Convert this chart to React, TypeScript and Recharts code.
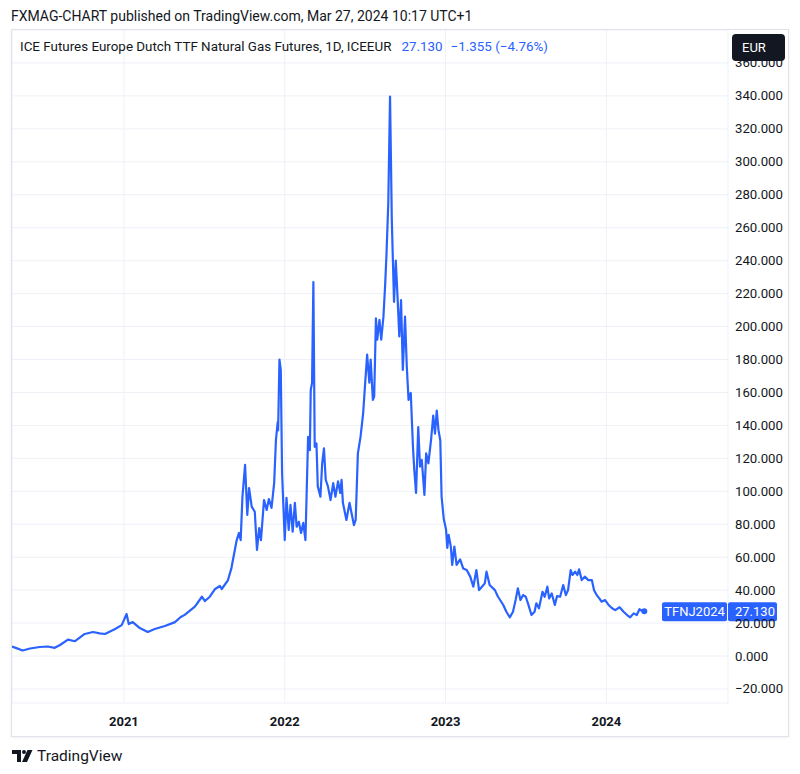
import React from "react";
import { LineChart, Line, XAxis, YAxis, CartesianGrid, ReferenceLine } from "recharts";

// daily closes (EUR/MWh)
const dates = [
  "2020-04-22", "2020-05-02", "2020-05-16", "2020-06-02", "2020-06-24", "2020-07-12", "2020-07-28",
  "2020-08-09", "2020-08-27", "2020-09-12", "2020-10-04", "2020-10-23", "2020-11-07", "2020-11-19",
  "2020-12-12", "2020-12-27", "2021-01-07", "2021-01-12", "2021-01-21", "2021-02-06", "2021-02-24",
  "2021-03-12", "2021-04-04", "2021-04-27", "2021-05-10", "2021-05-19", "2021-06-11", "2021-06-27",
  "2021-07-04", "2021-07-15", "2021-07-27", "2021-08-07", "2021-08-11", "2021-08-25", "2021-09-02",
  "2021-09-14", "2021-09-19", "2021-09-23", "2021-09-27", "2021-10-03", "2021-10-08", "2021-10-12",
  "2021-10-18", "2021-10-25", "2021-10-30", "2021-11-04", "2021-11-08", "2021-11-15", "2021-11-21",
  "2021-11-26", "2021-12-02", "2021-12-08", "2021-12-12", "2021-12-16", "2021-12-17", "2021-12-20",
  "2021-12-23", "2021-12-26", "2022-01-01", "2022-01-05", "2022-01-10", "2022-01-14", "2022-01-19",
  "2022-01-24", "2022-01-28", "2022-02-02", "2022-02-07", "2022-02-12", "2022-02-17", "2022-02-23",
  "2022-02-27", "2022-03-01", "2022-03-04", "2022-03-07", "2022-03-10", "2022-03-14", "2022-03-17",
  "2022-03-23", "2022-03-27", "2022-03-31", "2022-04-04", "2022-04-09", "2022-04-15", "2022-04-21",
  "2022-04-26", "2022-05-02", "2022-05-07", "2022-05-10", "2022-05-13", "2022-05-21", "2022-05-28",
  "2022-06-07", "2022-06-11", "2022-06-16", "2022-06-22", "2022-06-28", "2022-07-02", "2022-07-07",
  "2022-07-12", "2022-07-15", "2022-07-20", "2022-07-23", "2022-07-27", "2022-07-30", "2022-08-04",
  "2022-08-08", "2022-08-13", "2022-08-17", "2022-08-20", "2022-08-24", "2022-08-28", "2022-09-01",
  "2022-09-03", "2022-09-06", "2022-09-10", "2022-09-14", "2022-09-18", "2022-09-22", "2022-09-26",
  "2022-10-01", "2022-10-05", "2022-10-09", "2022-10-14", "2022-10-19", "2022-10-22", "2022-10-26",
  "2022-10-31", "2022-11-04", "2022-11-08", "2022-11-14", "2022-11-18", "2022-11-23", "2022-11-29",
  "2022-12-04", "2022-12-08", "2022-12-12", "2022-12-16", "2022-12-20", "2022-12-23", "2022-12-28",
  "2023-01-02", "2023-01-05", "2023-01-08", "2023-01-13", "2023-01-16", "2023-01-21", "2023-01-26",
  "2023-02-03", "2023-02-10", "2023-02-18", "2023-02-26", "2023-03-05", "2023-03-12", "2023-03-18",
  "2023-03-26", "2023-03-31", "2023-04-04", "2023-04-11", "2023-04-23", "2023-04-30", "2023-05-12",
  "2023-05-19", "2023-05-27", "2023-06-03", "2023-06-09", "2023-06-14", "2023-06-20", "2023-06-26",
  "2023-07-02", "2023-07-07", "2023-07-15", "2023-07-22", "2023-07-26", "2023-08-01", "2023-08-09",
  "2023-08-14", "2023-08-20", "2023-08-24", "2023-08-30", "2023-09-06", "2023-09-11", "2023-09-18",
  "2023-09-25", "2023-10-01", "2023-10-06", "2023-10-12", "2023-10-16", "2023-10-22", "2023-10-27",
  "2023-10-31", "2023-11-06", "2023-11-13", "2023-11-21", "2023-11-29", "2023-12-04", "2023-12-10",
  "2023-12-16", "2023-12-21", "2023-12-29", "2024-01-06", "2024-01-14", "2024-01-21", "2024-01-31",
  "2024-02-09", "2024-02-17", "2024-02-24", "2024-03-03", "2024-03-10", "2024-03-16", "2024-03-25",
  "2024-03-27",
];
const prices = [
  5.8, 4.8, 3.4, 4.6, 5.5, 5.8, 5.0,
  6.7, 10.0, 9.0, 13.4, 14.6, 13.8, 13.4,
  16.4, 18.8, 25.5, 19.4, 20.6, 17.0, 14.6,
  16.4, 18.2, 20.6, 23.7, 25.0, 30.0, 36.0,
  33.4, 36.0, 40.7, 42.5, 40.7, 46.0, 53.4,
  70.4, 74.7, 70.4, 96.7, 116.0, 85.6, 102.0,
  90.7, 87.6, 64.4, 77.7, 70.4, 94.7, 88.7,
  95.3, 89.9, 105.0, 131.0, 142.0, 137.0, 180.0,
  173.7, 111.0, 70.4, 96.0, 76.5, 91.7, 75.5,
  93.0, 78.5, 81.5, 74.7, 80.8, 70.4, 133.0,
  125.0, 161.5, 165.8, 227.0, 127.0, 129.0, 103.0,
  96.7, 117.0, 126.0, 107.0, 103.0, 94.7, 105.0,
  96.7, 106.0, 99.0, 107.0, 93.0, 82.6, 93.0,
  79.5, 82.6, 123.0, 133.0, 147.5, 163.5, 183.0,
  166.0, 180.0, 155.5, 157.5, 205.0, 192.0, 204.0,
  192.0, 206.0, 226.0, 244.5, 275.0, 339.6, 265.0,
  244.6, 215.0, 240.0, 218.0, 194.0, 216.0, 173.7,
  206.0, 175.7, 155.5, 159.7, 127.0, 113.0, 99.0,
  139.0, 115.0, 119.0, 97.8, 123.0, 117.0, 131.0,
  146.0, 135.0, 149.0, 137.0, 131.0, 96.7, 83.0,
  77.0, 65.6, 73.5, 66.4, 55.3, 66.4, 55.3,
  58.7, 53.2, 52.2, 48.2, 42.1, 52.2, 40.0,
  42.5, 44.1, 51.2, 43.1, 40.0, 36.0, 31.0,
  26.9, 23.5, 26.9, 34.0, 41.1, 34.0, 37.0,
  36.0, 32.0, 24.9, 26.9, 32.0, 29.0, 39.0,
  36.0, 42.1, 35.0, 38.0, 31.0, 36.4, 36.0,
  43.1, 37.0, 40.0, 52.2, 49.2, 51.2, 49.2,
  52.6, 46.1, 48.2, 46.1, 46.1, 40.0, 37.0,
  35.0, 33.0, 34.0, 31.0, 29.0, 27.9, 29.6,
  26.9, 24.9, 23.5, 25.9, 24.9, 28.4, 26.9,
  27.13,
];

const yearTicks = ["2021-01-01", "2022-01-01", "2023-01-01", "2024-01-01"];
const yearLabels = ["2021", "2022", "2023", "2024"];
const priceTicks = [-20, 0, 20, 40, 60, 80, 100, 120, 140, 160, 180, 200, 220, 240, 260, 280, 300, 320, 340, 360];

const symbol = "TFNJ2024";
const lastPrice = 27.13;

const data = dates.map((d, i) => ({ t: Date.parse(d), v: prices[i] }));
const xTicks = yearTicks.map((d) => Date.parse(d));

const FONT = "Roboto, 'Open Sans', sans-serif";
const BLUE = "#2962ff";
const INK = "#131722";

const fmtPrice = (v: number) => v.toFixed(3).replace("-", "\u2212");

const PriceTick = (props: any) => {
  const { x, y, payload } = props;
  return (
    <text x={x} y={y} dy={4.5} fill={INK} fontSize={13.2} fontFamily={FONT} textAnchor="start">
      {fmtPrice(payload.value)}
    </text>
  );
};

const YearTick = (props: any) => {
  const { x, y, payload } = props;
  const i = xTicks.indexOf(payload.value);
  return (
    <text x={x} y={y + 23} fill={INK} fontSize={13} fontWeight={700} fontFamily={FONT} textAnchor="middle">
      {yearLabels[i]}
    </text>
  );
};

const PriceBadge = (props: any) => {
  const vb = props.viewBox || {};
  const right = vb.x + vb.width;
  const y = vb.y;
  return (
    <g fontFamily={FONT} fontSize={13}>
      <rect x={right - 66} y={y - 9} width={65} height={19} rx={2} fill={BLUE} />
      <text x={right - 33.5} y={y + 4.5} fill="#fff" textAnchor="middle">{symbol}</text>
      <rect x={right} y={y - 9} width={49} height={19} rx={2} fill={BLUE} />
      <text x={right + 7} y={y + 4.5} fill="#fff">{fmtPrice(lastPrice)}</text>
    </g>
  );
};

const lastIdx = data.length - 1;

export default function App() {
  return (
    <div style={{ position: "absolute", left: 0, top: 0, width: 800, height: 774, background: "#fff", fontFamily: FONT, color: INK }}>
      <div style={{ position: "absolute", left: 11, top: 7, fontSize: 14, lineHeight: "18px", whiteSpace: "nowrap" }}>
        FXMAG-CHART published on TradingView.com, Mar 27, 2024 10:17 UTC+1
      </div>
      <div
        style={{
          position: "absolute",
          left: 11,
          top: 29,
          width: 778,
          height: 708,
          border: "1px solid #e0e3eb",
          boxSizing: "border-box",
          boxShadow: "0 1px 3px rgba(0,0,0,0.06)",
        }}
      />
      <div style={{ position: "absolute", left: 12, top: 30 }}>
        <LineChart width={777} height={706} data={data} margin={{ top: 0, right: 0, bottom: 0, left: 0 }}>
          <CartesianGrid stroke="#eef1f7" strokeWidth={1} />
          <XAxis
            dataKey="t"
            type="number"
            scale="time"
            domain={[Date.parse("2020-04-22"), Date.parse("2024-10-03")]}
            ticks={xTicks}
            tick={<YearTick />}
            tickLine={false}
            axisLine={false}
            tickSize={0}
            tickMargin={0}
            height={33}
            allowDataOverflow
          />
          <YAxis
            orientation="right"
            domain={[-28.5, 380]}
            ticks={priceTicks}
            tick={<PriceTick />}
            tickLine={false}
            axisLine={false}
            tickSize={0}
            tickMargin={7}
            width={61}
            interval={0}
            allowDataOverflow
          />
          <Line
            type="linear"
            dataKey="v"
            stroke={BLUE}
            strokeWidth={2.2}
            strokeLinejoin="round"
            dot={(p: any) =>
              p.index === lastIdx ? (
                <circle key={p.key} cx={p.cx} cy={p.cy} r={3} fill={BLUE} />
              ) : (
                <g key={p.key} />
              )
            }
            activeDot={false}
            isAnimationActive={false}
          />
          <ReferenceLine y={lastPrice} stroke="none" label={(p: any) => <PriceBadge viewBox={p.viewBox} />} />
        </LineChart>
      </div>
      <div style={{ position: "absolute", left: 20, top: 38, fontSize: 13.4, lineHeight: "18px", whiteSpace: "nowrap" }}>
        ICE Futures Europe Dutch TTF Natural Gas Futures, 1D, ICEEUR
        <span style={{ color: BLUE, marginLeft: 10 }}>{fmtPrice(lastPrice)}</span>
        <span style={{ color: BLUE, marginLeft: 8 }}>{"\u22121.355 (\u22124.76%)"}</span>
      </div>
      <div
        style={{
          position: "absolute",
          left: 732,
          top: 34,
          width: 53,
          height: 27,
          background: INK,
          borderRadius: 4,
          color: "#fff",
          fontSize: 13,
          lineHeight: "27px",
          paddingLeft: 10,
          boxSizing: "border-box",
        }}
      >
        EUR
      </div>
      <div style={{ position: "absolute", left: 12, top: 748, display: "flex", alignItems: "center" }}>
        <svg width={21} height={13} viewBox="0 0 21 13">
          <polygon points="0,0 9,0 9,12 5,12 5,4 0,4" fill={INK} />
          <circle cx={12} cy={2} r={2} fill={INK} />
          <polygon points="15.5,0 20.5,0 15,12 10,12" fill={INK} />
        </svg>
        <span style={{ marginLeft: 4, fontSize: 15.5, lineHeight: "16px", color: INK }}>TradingView</span>
      </div>
    </div>
  );
}
